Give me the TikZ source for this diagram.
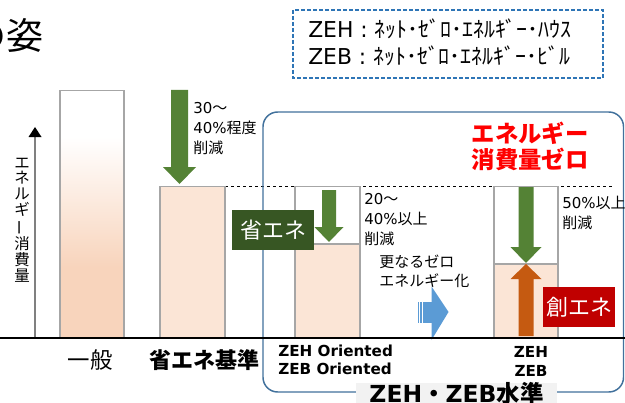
\documentclass[tikz,border=0pt]{standalone}
\usepackage{fontspec}
\usepackage{graphicx}
\setmainfont{DejaVu Sans}
\newfontfamily\jpfont{Noto Sans CJK JP}
\newcommand{\jp}[1]{{\jpfont #1}}
\definecolor{barGray}{HTML}{A6A6A6}
\definecolor{peach}{HTML}{FBE5D6}
\definecolor{peachDeep}{HTML}{F8D4BC}
\definecolor{arrGreen}{HTML}{548235}
\definecolor{labGreen}{HTML}{375623}
\definecolor{arrOrange}{HTML}{C55A11}
\definecolor{labRed}{HTML}{C00000}
\definecolor{arrBlue}{HTML}{5B9BD5}
\definecolor{boxBlue}{HTML}{41719C}
\definecolor{legBlue}{HTML}{2E75B6}
\definecolor{lightBg}{HTML}{F2F2F2}
\newcommand{\blockdown}[7]{% color, cx, top, headstart, tip, shaft hw, head hw
  \fill[#1] (#2-#6,#3) -- (#2+#6,#3) -- (#2+#6,#4) -- (#2+#7,#4) -- (#2,#5)
    -- (#2-#7,#4) -- (#2-#6,#4) -- cycle;}
\tikzset{
  barbox/.style={draw=barGray, line width=0.8pt},
  ann/.style={font=\fontsize{11.25}{13}\selectfont, anchor=west, inner sep=0pt},
  botlab/.style={font=\jpfont\fontsize{16.8}{18}\selectfont, inner sep=0pt},
  engl/.style={font=\bfseries\fontsize{11.4}{13}\selectfont, inner sep=0pt},
  redt/.style={font=\jpfont\bfseries\fontsize{17.5}{19}\selectfont, text=red, inner sep=0pt},
  tag/.style={font=\jpfont\fontsize{16.5}{18}\selectfont, text=white, inner sep=0pt},
  legtxt/.style={font=\fontsize{16.4}{18}\selectfont, anchor=west, inner sep=0pt}
}
\begin{document}
\begin{tikzpicture}[x=0.75pt,y=-0.75pt]
\useasboundingbox (0,0) rectangle (625,403);
\fill[white] (0,0) rectangle (625,403);

% title (partially cut)
\node[anchor=east, font=\jpfont\fontsize{27.75}{30}\selectfont, inner sep=0pt] (title) at (44,35) {の姿};

% legend box
\draw[legBlue, line width=0.9pt, dash pattern=on 3pt off 1.5pt] (293,10) rectangle (603,78);
\node[legtxt] (leg1) at (308,29) {ZEH : \jp{ﾈｯﾄ･ｾﾞﾛ･ｴﾈﾙｷﾞｰ･ﾊｳｽ}};
\node[legtxt] (leg2) at (308,55.5) {ZEB : \jp{ﾈｯﾄ･ｾﾞﾛ･ｴﾈﾙｷﾞｰ･ﾋﾞﾙ}};

% axis
\coordinate (ax0) at (35,338);
\coordinate (ax1) at (35,137);
\draw[gray, line width=0.8pt] (ax0) -- (ax1);
\fill[black] (28.5,137) -- (35,127) -- (41.5,137) -- cycle;
\node[font=\jpfont\fontsize{11.6}{11.8}\selectfont, align=center, inner sep=0pt] (axlab) at (22,220)
  {エ\\ネ\\ル\\ギ\\\rotatebox[origin=c]{90}{ー}\\消\\費\\量};

% dashed reference line
\draw[black, line width=0.6pt, dash pattern=on 2.5pt off 2pt] (225,186.7) -- (612,186.7);

% blue rounded frame
\draw[boxBlue, line width=1.1pt, rounded corners=11pt] (263,112) rectangle (623.5,392);

% bar 1 (gradient)
\fill[white] (60,90.5) rectangle (124,137);
\shade[top color=white, bottom color=peachDeep] (60,137) rectangle (124,267);
\fill[peachDeep] (60,267) rectangle (124,338);
\draw[barbox] (60,338) -- (60,90.5) -- (124,90.5) -- (124,338);

% bar 2
\fill[peach] (160,186.7) rectangle (225,338);
\draw[barbox] (160,338) -- (160,186.7) -- (225,186.7) -- (225,338);

% bar 3
\fill[white] (295,186.7) rectangle (360,244);
\fill[peach] (295,244) rectangle (360,338);
\draw[barbox] (295,338) -- (295,186.7) -- (360,186.7) -- (360,338);
\draw[barbox] (295,244) -- (360,244);

% bar 4
\fill[white] (494,186.7) rectangle (558,264);
\fill[peach] (494,264) rectangle (558,338);
\draw[barbox] (494,338) -- (494,186.7) -- (558,186.7) -- (558,338);
\draw[barbox] (494,264) -- (558,264);

% green arrows
\blockdown{arrGreen}{179.5}{90}{167}{184}{8.5}{16.5}
\blockdown{arrGreen}{329}{190}{227}{242}{7}{14.5}
\blockdown{arrGreen}{526}{187}{247}{263}{7.5}{15.5}
% orange arrow up
\fill[arrOrange] (518.5,336) -- (533.5,336) -- (533.5,279) -- (541.5,279) -- (526,264)
  -- (510.5,279) -- (518.5,279) -- cycle;

% blue arrow
\fill[arrBlue] (418,302) rectangle (419.2,322.5);
\fill[arrBlue] (420.4,302) rectangle (421.8,322.5);
\fill[arrBlue] (423,302) rectangle (432,322.5);
\fill[arrBlue] (431.5,286.5) -- (448.5,312) -- (431.5,340) -- cycle;

% ground line
\draw[black, line width=1.6pt] (0,338) -- (625,338);

% tags
\node[fill=labGreen, minimum width=61.5pt, minimum height=30pt, tag] (tagA) at (273,230) {省エネ};
\node[fill=labRed, minimum width=54pt, minimum height=30pt, tag] (tagB) at (579,307) {創エネ};

% annotations
\node[ann] (a1) at (193,108) {30\jp{～}};
\node[ann] (a2) at (193,128) {40\%\jp{程度}};
\node[ann] (a3) at (193,148) {\jp{削減}};
\node[ann] (b1) at (364,199) {20\jp{～}};
\node[ann] (b2) at (364,219) {40\%\jp{以上}};
\node[ann] (b3) at (364,239) {\jp{削減}};
\node[ann] (c1) at (562,202.5) {50\%\jp{以上}};
\node[ann] (c2) at (562,222.5) {\jp{削減}};
\node[ann] (d1) at (379,262) {\jp{更なるゼロ}};
\node[ann] (d2) at (379,281) {\jp{エネルギー化}};

% red heading
\node[redt] (r1) at (530,133) {エネルギー};
\node[redt] (r2) at (530,159) {消費量ゼロ};

% bottom labels
\node[botlab] (l1) at (90,360) {一般};
\node[botlab, font=\jpfont\bfseries\fontsize{16.5}{18}\selectfont] (l2) at (204,360) {省エネ基準};
\node[engl, anchor=west] (l3) at (278,351) {ZEH Oriented};
\node[engl, anchor=west] (l4) at (278,369) {ZEB Oriented};
\node[engl] (l5) at (531,352) {ZEH};
\node[engl] (l6) at (531,371) {ZEB};

% level label
\fill[lightBg] (356,383) rectangle (557,403);
\node[font=\bfseries\fontsize{17.6}{19}\selectfont, anchor=base, inner sep=0pt] (lvl) at (456.5,402)
  {ZEH\jp{・}ZEB\jp{水準}};
\end{tikzpicture}
\end{document}
